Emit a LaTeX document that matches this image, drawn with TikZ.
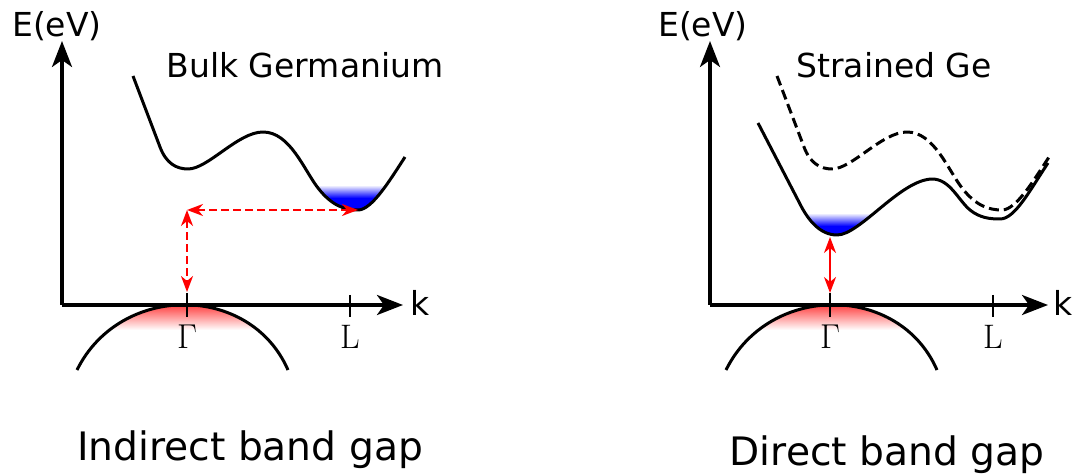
\documentclass[tikz,border=0pt]{standalone}
\usepackage{fontspec}
\setsansfont{DejaVu Sans}
\usetikzlibrary{arrows.meta}

% conduction bands (pixel coordinates)
\newcommand{\bulkband}{(133,76) -- (160,147) .. controls (166,163) and (176,169) .. (188,169) .. controls (208,169) and (238,132) .. (263,132) .. controls (290,132) and (304,170) .. (318,188) .. controls (332,206) and (345,210) .. (358,210) .. controls (372,210) and (390,180) .. (405,157)}
\newcommand{\strainband}{(758,123) -- (800,204) .. controls (808,220) and (820,235) .. (837,235) .. controls (860,235) and (900,180) .. (932,179) .. controls (950,179) and (958,200) .. (970,210) .. controls (980,218) and (990,219) .. (1000,219) .. controls (1015,219) and (1030,190) .. (1048,163)}

\begin{document}
\begin{tikzpicture}[
    x=0.5pt, y=-0.5pt,
    axis/.style={line width=1.7pt, -{Stealth[length=13pt, width=10pt, inset=3.5pt]}},
    band/.style={line width=1.5pt, line join=round},
    tick/.style={line width=1.3pt},
    gap/.style={red, line width=1pt, {Stealth[length=8pt, width=6pt, inset=2.5pt]}-{Stealth[length=8pt, width=6pt, inset=2.5pt]}},
    lbl/.style={font=\sffamily\fontsize{16.5}{18}\selectfont, anchor=base},
    sym/.style={font=\fontsize{17}{19}\selectfont, anchor=base},
    title/.style={font=\sffamily\fontsize{19.6}{22}\selectfont, anchor=base}
]
\useasboundingbox (0,0) rectangle (1080,475);

%%% left: bulk germanium
% red holes at the top of the valence band
\begin{scope}
  \clip (77,370) .. controls (120,283) and (250,283) .. (288,370) -- cycle;
  \shade[top color=red!80, bottom color=white] (60,303) rectangle (300,330);
\end{scope}
% blue electrons in the L valley
\begin{scope}
  \clip (300,185) rectangle (410,216);
  \clip \bulkband -- (405,0) -- (133,0) -- cycle;
  \shade[top color=white, bottom color=blue] (300,185) rectangle (410,198);
  \fill[blue] (300,198) rectangle (410,216);
\end{scope}

% axes
\coordinate (oL) at (62,305);
\coordinate (eL) at (62,41);
\coordinate (kL) at (403,305);
\draw[axis] (oL) -- (eL);
\draw[axis] (oL) -- (kL);
\node[lbl] (elabelL) at (57,37) {E(eV)};
\node[lbl] (klabelL) at (420,315) {k};

% ticks
\draw[tick] (187,293) -- (187,317);
\draw[tick] (350,295) -- (350,317);
\node[sym] (gammaL) at (187,349) {$\Gamma$};
\node[sym] (lL) at (350,349) {L};

% bands
\draw[band] \bulkband;
\draw[band] (77,370) .. controls (120,283) and (250,283) .. (288,370);
\node[lbl] (bulk) at (305,78) {Bulk Germanium};

% indirect transition
\coordinate (vbL) at (187,292);
\coordinate (cornerL) at (187,210);
\coordinate (cbL) at (358,210);
\draw[gap, dash pattern=on 4pt off 2pt] (cornerL) -- (cbL);
\draw[gap, dash pattern=on 4pt off 2pt] (cornerL) -- (vbL);

\node[title] (indirect) at (250,460) {Indirect band gap};

%%% right: strained germanium
% red holes
\begin{scope}
  \clip (726,370) .. controls (769,283) and (899,283) .. (937,370) -- cycle;
  \shade[top color=red!80, bottom color=white] (700,303) rectangle (950,330);
\end{scope}
% blue electrons in the Gamma valley
\begin{scope}
  \clip (790,213) rectangle (890,240);
  \clip \strainband -- (1048,0) -- (758,0) -- cycle;
  \shade[top color=white, bottom color=blue] (790,213) rectangle (890,226);
  \fill[blue] (790,226) rectangle (890,240);
\end{scope}

% axes
\coordinate (oR) at (710,305);
\coordinate (eR) at (710,41);
\coordinate (kR) at (1048,305);
\draw[axis] (oR) -- (eR);
\draw[axis] (oR) -- (kR);
\node[lbl] (elabelR) at (703,37) {E(eV)};
\node[lbl] (klabelR) at (1063,315) {k};

% ticks
\draw[tick] (830,293) -- (830,317);
\draw[tick] (993,295) -- (993,317);
\node[sym] (gammaR) at (830,349) {$\Gamma$};
\node[sym] (lR) at (993,349) {L};

% bands (unstrained band dashed)
\begin{scope}[xshift=322pt]
  \draw[band, dash pattern=on 5pt off 2.5pt] \bulkband;
\end{scope}
\draw[band] \strainband;
\draw[band] (726,370) .. controls (769,283) and (899,283) .. (937,370);
\node[lbl] (strained) at (894,78) {Strained Ge};

% direct transition
\coordinate (vbR) at (830,293);
\coordinate (cbR) at (830,237);
\draw[gap] (cbR) -- (vbR);

\node[title] (direct) at (887,465) {Direct band gap};

\end{tikzpicture}
\end{document}
